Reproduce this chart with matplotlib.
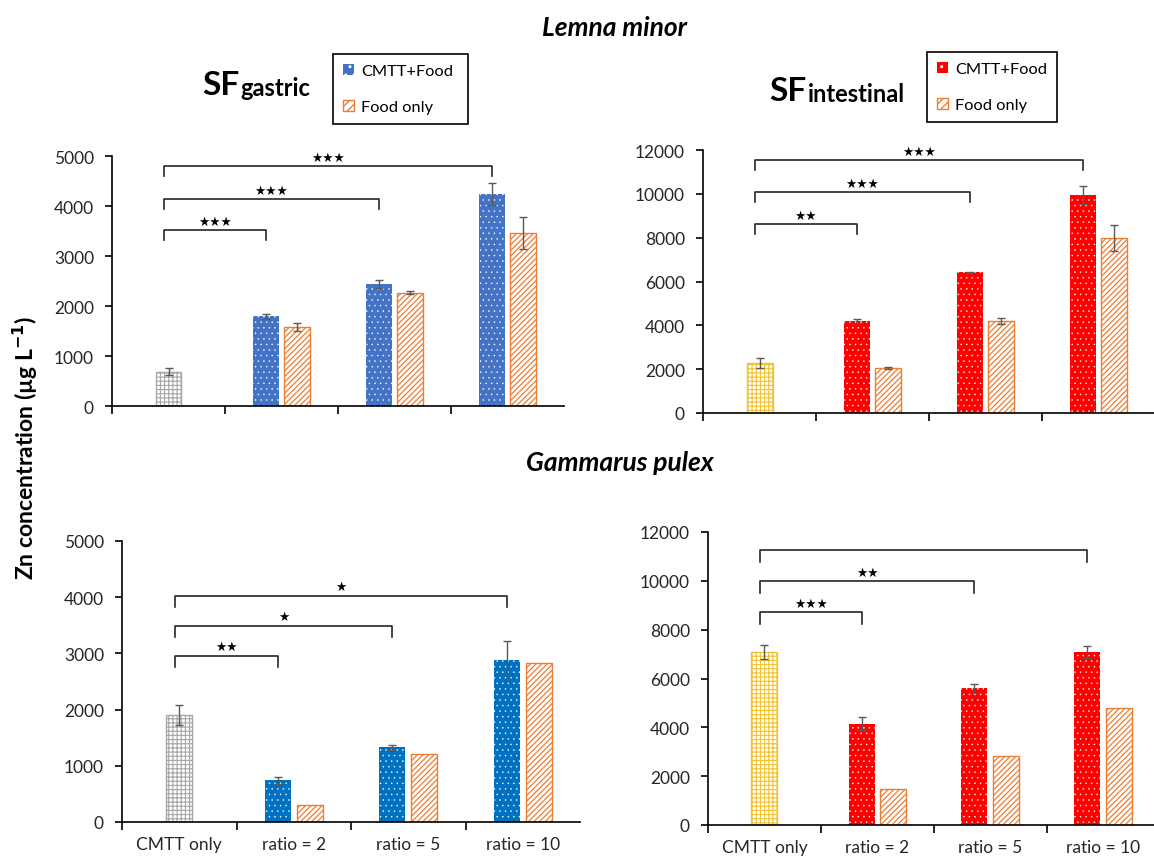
import numpy as np
import matplotlib.pyplot as plt
from matplotlib.patches import Patch

plt.rcParams.update({
    'font.family': ['Lato', 'DejaVu Sans'],
    'font.size': 12,
    'hatch.linewidth': 1.0,
    'axes.linewidth': 1.2,
})

# --- data ---
categories = ['CMTT only', 'ratio = 2', 'ratio = 5', 'ratio = 10']

# Lemna minor, SF gastric
lemna_gas_cmtt = 690
lemna_gas_cmtt_err = 75
lemna_gas_food_cmtt = [1800, 2436, 4250]
lemna_gas_food_cmtt_err = [50, 75, 220]
lemna_gas_food_only = [1590, 2270, 3468]
lemna_gas_food_only_err = [80, 25, 320]
lemna_gas_sig = ['***', '***', '***']
lemna_gas_levels = [3514, 4143, 4799]

# Lemna minor, SF intestinal
lemna_int_cmtt = 2290
lemna_int_cmtt_err = 220
lemna_int_food_cmtt = [4190, 6420, 9940]
lemna_int_food_cmtt_err = [100, 30, 400]
lemna_int_food_only = [2060, 4190, 7980]
lemna_int_food_only_err = [50, 150, 600]
lemna_int_sig = ['**', '***', '***']
lemna_int_levels = [8631, 10088, 11545]

# Gammarus pulex, SF gastric
gam_gas_cmtt = 1908
gam_gas_cmtt_err = 180
gam_gas_food_cmtt = [744, 1326, 2889]
gam_gas_food_cmtt_err = [65, 40, 340]
gam_gas_food_only = [298, 1207, 2830]
gam_gas_food_only_err = None
gam_gas_sig = ['**', '*', '*']
gam_gas_levels = [2961, 3495, 4030]

# Gammarus pulex, SF intestinal
gam_int_cmtt = 7090
gam_int_cmtt_err = 290
gam_int_food_cmtt = [4145, 5593, 7090]
gam_int_food_cmtt_err = [260, 200, 250]
gam_int_food_only = [1473, 2811, 4774]
gam_int_food_only_err = None
gam_int_sig = ['***', '**', '']
gam_int_levels = [8727, 9995, 11264]

ORANGE = '#ED7D31'
ERR_COLOR = '#595959'
TXT = '#262626'


def thin_hatch(bars, lw):
    # per-artist hatch width when the matplotlib version supports it
    for b in bars:
        if hasattr(b, 'set_hatch_linewidth'):
            b.set_hatch_linewidth(lw)


def draw_panel(ax, cmtt, cmtt_err, fc, fc_err, fo, fo_err, sig, levels,
               ymax, ystep, main_color, cmtt_color, xmax, show_labels):
    x = np.arange(len(categories))
    xr = x[1:]
    off, w = 0.14, 0.23

    # CMTT only (grid hatch)
    b = ax.bar(x[0], cmtt, w, color='white', edgecolor=cmtt_color, hatch='++++', lw=1.0, zorder=2)
    thin_hatch(b, 0.8)
    ax.errorbar(x[0], cmtt, yerr=cmtt_err, fmt='none', ecolor=ERR_COLOR, capsize=3, lw=1, zorder=4)

    # CMTT+Food (dotted)
    with plt.rc_context({'hatch.linewidth': 0.3}):
        b = ax.bar(xr - off, fc, w, color=main_color, edgecolor='white', hatch='...', lw=0, zorder=2)
    thin_hatch(b, 0.3)
    ax.errorbar(xr - off, fc, yerr=fc_err, fmt='none', ecolor=ERR_COLOR, capsize=3, lw=1, zorder=4)

    # Food only (diagonal hatch)
    b = ax.bar(xr + off, fo, w, color='white', edgecolor=ORANGE, hatch='//////', lw=1.0, zorder=2)
    thin_hatch(b, 0.9)
    if fo_err is not None:
        ax.errorbar(xr + off, fo, yerr=fo_err, fmt='none', ecolor=ERR_COLOR, capsize=3, lw=1, zorder=4)

    # significance brackets
    drop = 0.04 * ymax
    for i, (lab, lvl) in enumerate(zip(sig, levels)):
        x0, x1 = -0.04, xr[i] - off
        ax.plot([x0, x0, x1, x1], [lvl - drop, lvl, lvl, lvl - drop],
                color=TXT, lw=1.2, clip_on=False, zorder=5)
        if lab:
            ax.text((x0 + x1) / 2, lvl + 0.008 * ymax, lab.replace('*', '\u2605'),
                    ha='center', va='bottom', fontsize=9, color='black',
                    family=['DejaVu Sans'], clip_on=False)

    ax.set_xlim(-0.5, xmax)
    ax.set_ylim(0, ymax)
    ax.set_yticks(np.arange(0, ymax + 1, ystep))
    ax.set_xticks(x)
    ax.set_xticks([-0.5, 0.5, 1.5, 2.5], minor=True)
    ax.tick_params(axis='x', which='major', length=0, pad=10, labelsize=12.5, labelcolor=TXT)
    ax.tick_params(axis='x', which='minor', length=6, width=1.2, direction='out')
    ax.tick_params(axis='y', length=5, width=1.2, direction='out', labelsize=12.5, labelcolor=TXT, pad=8)
    if show_labels:
        ax.set_xticklabels(categories)
    else:
        ax.set_xticklabels([])
    for s in ['top', 'right']:
        ax.spines[s].set_visible(False)


W, H = 1154, 862
fig = plt.figure(figsize=(W / 100, H / 100), dpi=100)


def px_axes(x0, x1, ytop, ybot):
    return fig.add_axes([x0 / W, 1 - ybot / H, (x1 - x0) / W, (ybot - ytop) / H])


ax_tl = px_axes(112, 564, 157, 407)
ax_tr = px_axes(703, 1154, 151, 414)
ax_bl = px_axes(122, 580, 542, 823)
ax_br = px_axes(708, 1154, 533, 826)

draw_panel(ax_tl, lemna_gas_cmtt, lemna_gas_cmtt_err, lemna_gas_food_cmtt, lemna_gas_food_cmtt_err,
           lemna_gas_food_only, lemna_gas_food_only_err, lemna_gas_sig, lemna_gas_levels,
           5000, 1000, '#4472C4', '#A6A6A6', 3.5, False)
draw_panel(ax_tr, lemna_int_cmtt, lemna_int_cmtt_err, lemna_int_food_cmtt, lemna_int_food_cmtt_err,
           lemna_int_food_only, lemna_int_food_only_err, lemna_int_sig, lemna_int_levels,
           12000, 2000, '#FF0000', '#F2C230', 3.49, False)
draw_panel(ax_bl, gam_gas_cmtt, gam_gas_cmtt_err, gam_gas_food_cmtt, gam_gas_food_cmtt_err,
           gam_gas_food_only, gam_gas_food_only_err, gam_gas_sig, gam_gas_levels,
           5000, 1000, '#0070C0', '#A6A6A6', 3.5, True)
draw_panel(ax_br, gam_int_cmtt, gam_int_cmtt_err, gam_int_food_cmtt, gam_int_food_cmtt_err,
           gam_int_food_only, gam_int_food_only_err, gam_int_sig, gam_int_levels,
           12000, 2000, '#FF0000', '#F2C230', 3.45, True)

# section titles
fig.text(614 / W, 1 - 36 / H, 'Lemna minor', ha='center', va='baseline',
         fontsize=19, fontweight='bold', style='italic')
fig.text(620 / W, 1 - 471 / H, 'Gammarus pulex', ha='center', va='baseline',
         fontsize=19, fontweight='bold', style='italic')
fig.text(25 / W, 1 - 448 / H, r'Zn concentration (µg L$^{\mathbf{-1}}$)', rotation=90,
         ha='center', va='center', fontsize=16.5, fontweight='bold')

# SF titles (big "SF" + smaller subscript word)
for xpx, ypx, sub in [(202, 95, 'gastric'), (769, 101, 'intestinal')]:
    t = fig.text(xpx / W, 1 - ypx / H, 'SF', fontsize=24, fontweight='bold', va='baseline')
    ax_tl.annotate(sub, xy=(1, 0), xycoords=t, xytext=(1, 0), textcoords='offset points',
                   va='bottom', ha='left', fontsize=17, fontweight='bold', annotation_clip=False)

# legends
for (x0, x1, y0, y1), col in [((333, 468, 55, 130), '#4472C4'), ((927, 1057, 53, 132), '#FF0000')]:
    handles = [Patch(facecolor=col, edgecolor='white', hatch='..', lw=0),
               Patch(facecolor='white', edgecolor=ORANGE, hatch='////', lw=1)]
    leg = fig.legend(handles, ['CMTT+Food', 'Food only'], loc='upper left',
                     bbox_to_anchor=(x0 / W, 1 - y1 / H, (x1 - x0) / W, (y1 - y0) / H),
                     mode='expand', borderaxespad=0, fancybox=False, edgecolor='black',
                     framealpha=1, fontsize=11.8, labelspacing=1.3, borderpad=0.6,
                     handlelength=0.7, handleheight=0.7, handletextpad=0.4)
    leg.get_frame().set_linewidth(1.2)

fig.savefig('out.png', dpi=100)
